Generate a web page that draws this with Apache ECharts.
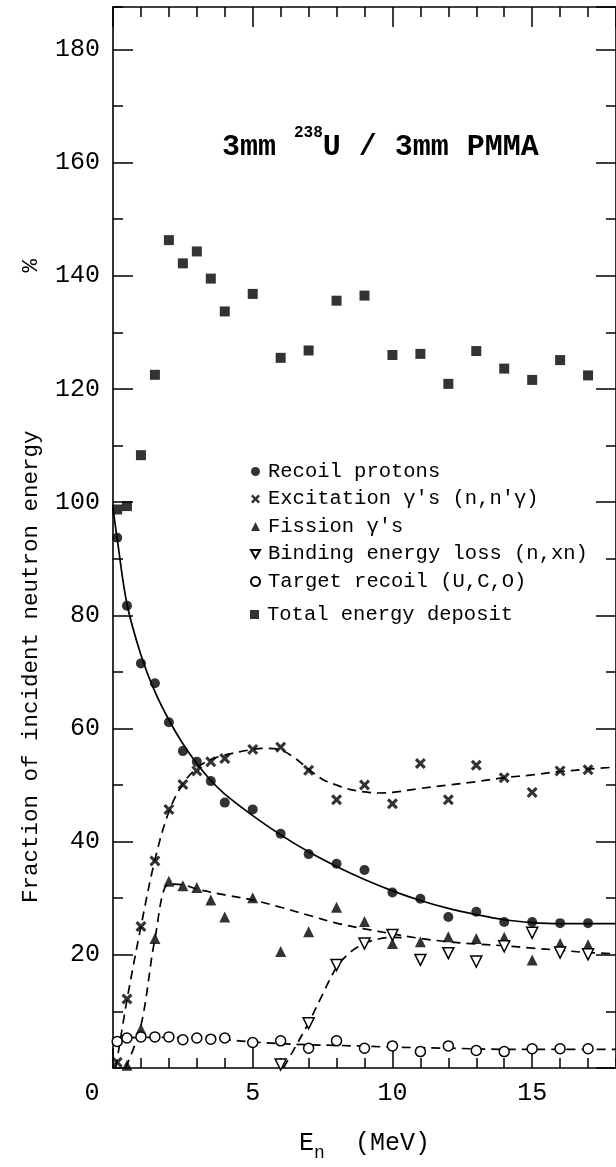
<!DOCTYPE html>
<html>
<head>
<meta charset="utf-8">
<script src="https://cdn.jsdelivr.net/npm/echarts@6/dist/echarts.min.js"></script>
<style>
  html, body { margin: 0; padding: 0; background: #fff; }
  #chart { width: 616px; height: 1167px; }
</style>
</head>
<body>
<div id="chart"></div>
<script>
// Neutron energy (MeV) and the share of it (%) deposited by each process
const recoilE = [0.15, 0.5, 1, 1.5, 2, 2.5, 3, 3.5, 4, 5, 6, 7, 8, 9, 10, 11, 12, 13, 14, 15, 16, 17];
const recoilV = [93.7, 81.7, 71.5, 68, 61.1, 56.0, 54.1, 50.7, 46.9, 45.7, 41.4, 37.8, 36.1, 35.0, 31.0, 29.9, 26.7, 27.6, 25.8, 25.8, 25.6, 25.6];

const excE = [0.15, 0.5, 1, 1.5, 2, 2.5, 3, 3.5, 4, 5, 6, 7, 8, 9, 10, 11, 12, 13, 14, 15, 16, 17];
const excV = [1, 12.2, 25.0, 36.6, 45.7, 50.1, 52.5, 54.1, 54.7, 56.3, 56.7, 52.6, 47.4, 50.0, 46.7, 53.8, 47.4, 53.5, 51.3, 48.7, 52.5, 52.7];

const fisE = [0.5, 1, 1.5, 2, 2.5, 3, 3.5, 4, 5, 6, 7, 8, 9, 10, 11, 12, 13, 14, 15, 16, 17];
const fisV = [0.5, 6.9, 22.9, 33.0, 32.2, 31.9, 29.7, 26.7, 30.1, 20.6, 24.1, 28.4, 25.9, 22.0, 22.3, 23.2, 22.9, 23.1, 19.1, 22.0, 21.8];

const bindE = [6, 7, 8, 9, 10, 11, 12, 13, 14, 15, 16, 17];
const bindV = [0.6, 7.9, 18.2, 22.0, 23.5, 19.1, 20.3, 18.8, 21.5, 23.9, 20.4, 20.1];

const targetE = [0.15, 0.5, 1, 1.5, 2, 2.5, 3, 3.5, 4, 5, 6, 7, 8, 9, 10, 11, 12, 13, 14, 15, 16, 17];
const targetV = [4.7, 5.3, 5.5, 5.5, 5.5, 5.0, 5.3, 5.1, 5.3, 4.5, 4.8, 3.5, 4.8, 3.5, 3.9, 2.9, 3.9, 3.1, 2.9, 3.4, 3.4, 3.4];

const totalE = [0.15, 0.5, 1, 1.5, 2, 2.5, 3, 3.5, 4, 5, 6, 7, 8, 9, 10, 11, 12, 13, 14, 15, 16, 17];
const totalV = [98.7, 99.3, 108.3, 122.5, 146.3, 142.2, 144.3, 139.5, 133.7, 136.8, 125.5, 126.8, 135.6, 136.5, 126.0, 126.2, 120.9, 126.7, 123.6, 121.6, 125.1, 122.4];

// Hand-drawn trend curves, sampled along their paths [E, %]
const recoilCurve = [[0, 99], [0.15, 93.5], [0.5, 82], [1, 73], [1.5, 66.5], [2, 61.5], [2.5, 57.3], [3, 53.8], [3.5, 50.8], [4, 48.4], [5, 44.6], [6, 41.2], [7, 38.2], [8, 35.6], [9, 33.3], [10, 31.3], [11, 29.6], [12, 28.2], [13, 27.1], [14, 26.2], [15, 25.7], [16, 25.5], [17, 25.5], [18, 25.5]];
const excCurve = [[0.1, 0], [0.5, 12], [1, 25], [1.5, 36.8], [2, 45.3], [2.5, 50.2], [3, 53], [3.5, 54.5], [4, 55.3], [5, 56.3], [5.5, 56.5], [6, 56.2], [6.5, 54.8], [7, 52.8], [7.5, 51], [8, 50], [8.5, 49.2], [9, 48.8], [9.5, 48.6], [10, 48.7], [11, 49.4], [12, 50], [13, 50.6], [14, 51.3], [15, 51.8], [16, 52.4], [17, 52.8], [18, 53.2]];
const fisCurve = [[0.45, 0], [1, 7.5], [1.5, 22.8], [2, 32.5], [2.5, 32.4], [3, 31.6], [4, 30.6], [5, 29.7], [6, 28.4], [7, 27], [8, 25.6], [9, 24.6], [10, 23.7], [11, 22.9], [12, 22.3], [13, 21.9], [14, 21.6], [15, 21.2], [16, 20.8], [17, 20.4], [18, 20.2]];
const bindCurve = [[6.1, 0], [6.5, 3.5], [7, 8], [7.5, 13], [8, 17.8], [8.5, 20.5], [9, 22], [9.5, 22.8], [10, 23.1], [10.5, 23]];
const targetCurve = [[0.15, 4.8], [0.5, 5.3], [1, 5.4], [2, 5.4], [3, 5.2], [4, 5.0], [5, 4.6], [6, 4.3], [7, 4.1], [8, 4.0], [10, 3.7], [12, 3.5], [14, 3.3], [16, 3.3], [18, 3.3]];

const xMajorTicks = 5;
const xMinorTicks = 1;
const yMajorTicks = 20;
const yMinorTicks = 10;

const FONT = 'Liberation Mono';
const INK = '#000';
const pairs = (xs, ys) => xs.map((x, i) => [x, ys[i]]);

// Bold saltire for the excitation points, open downward triangle for binding loss
const CROSS = 'path://M0,2L2,0L5,3L8,0L10,2L7,5L10,8L8,10L5,7L2,10L0,8L3,5Z';
const DOWN_TRI = 'path://M0,0L10,0L5,9Z';

function xAxisDef(pos, interval, len, withLabels, withLine) {
  return {
    type: 'value', position: pos, min: 0, max: 18, interval: interval,
    axisLine: { show: withLine, onZero: false, lineStyle: { color: INK, width: 1.6 } },
    axisTick: { show: true, inside: true, length: len, lineStyle: { color: INK, width: 1.5 } },
    axisLabel: withLabels ? {
      show: true, margin: 13, color: INK, fontFamily: FONT, fontSize: 25,
      showMaxLabel: false,
      formatter: v => v === 0 ? '{z|0}' : String(v),
      rich: { z: { fontFamily: FONT, fontSize: 25, color: INK, padding: [0, 42, 0, 0] } }
    } : { show: false },
    splitLine: { show: false }
  };
}
function yAxisDef(pos, interval, len, withLabels, withLine) {
  return {
    type: 'value', position: pos, min: 0, max: 187.5, interval: interval,
    axisLine: { show: withLine, onZero: false, lineStyle: { color: INK, width: 1.6 } },
    axisTick: { show: true, inside: true, length: len, lineStyle: { color: INK, width: 1.5 } },
    axisLabel: withLabels ? {
      show: true, margin: 13, color: INK, fontFamily: FONT, fontSize: 25,
      showMinLabel: false, showMaxLabel: false
    } : { show: false },
    splitLine: { show: false }
  };
}

const xBottom = xAxisDef('bottom', xMajorTicks, 20, true, true);
xBottom.name = '{e|E}{s|n}{e|  (MeV)}';
xBottom.nameLocation = 'middle';
xBottom.nameGap = 63;
xBottom.nameTextStyle = {
  rich: {
    e: { fontFamily: FONT, fontSize: 25, color: INK, verticalAlign: 'bottom', padding: [0, 0, 6, 0] },
    s: { fontFamily: FONT, fontSize: 18, color: INK, verticalAlign: 'bottom' }
  }
};

// Rotated axis title; the per-cent sign sits well apart from the words
const yLeft = yAxisDef('left', yMajorTicks, 20, true, true);
yLeft.name = '{t|Fraction of incident neutron energy}{p|%}';
yLeft.nameLocation = 'middle';
yLeft.nameRotate = 90;
yLeft.nameGap = 70;
yLeft.nameTextStyle = {
  padding: [0, 87, 0, 0],
  rich: {
    t: { fontFamily: FONT, fontSize: 22.5, color: INK },
    p: { fontFamily: FONT, fontSize: 22.5, color: INK, padding: [0, 0, 0, 158] }
  }
};

const lineSeries = (name, data, dashed) => ({
  name: name, type: 'line', data: data, smooth: 0.35, showSymbol: false, symbol: 'none',
  silent: true, z: 2,
  lineStyle: { color: INK, width: 1.7, type: dashed ? [9, 6] : 'solid' }
});
const scatterSeries = (name, data, symbol, size, filled, rotate) => ({
  name: name, type: 'scatter', data: data, symbol: symbol, symbolSize: size,
  symbolRotate: rotate || 0, z: 5,
  itemStyle: filled
    ? { color: INK, borderWidth: 0 }
    : { color: '#fff', borderColor: INK, borderWidth: 1.5, opacity: 1 }
});

const legendText = { fontFamily: FONT, fontSize: 20.5, color: INK, padding: [0, 0, 0, 3] };

const chart = echarts.init(document.getElementById('chart'), null, { renderer: 'canvas' });
chart.setOption({
  animation: false,
  backgroundColor: '#fff',
  title: {
    text: '{a|3mm }{b|238}{a|U / 3mm PMMA}',
    left: 222, top: 125, padding: 0,
    textStyle: {
      rich: {
        a: { fontFamily: FONT, fontSize: 30, color: INK, verticalAlign: 'bottom' },
        b: { fontFamily: FONT, fontSize: 16, color: INK, verticalAlign: 'bottom', padding: [0, 0, 21, 0] }
      }
    }
  },
  legend: [
    {
      orient: 'vertical', left: 250, top: 461, padding: 0, itemGap: 6.5,
      itemWidth: 9, itemHeight: 9, selectedMode: false, textStyle: legendText,
      data: ['Recoil protons', "Excitation γ's (n,n'γ)", "Fission γ's", 'Binding energy loss (n,xn)', 'Target recoil (U,C,O)']
    },
    {
      orient: 'vertical', left: 250, top: 604, padding: 0,
      itemWidth: 9, itemHeight: 9, selectedMode: false, textStyle: legendText,
      data: ['Total energy deposit']
    }
  ],
  grid: { left: 113, right: -7, top: 7, bottom: 95, containLabel: false },
  xAxis: [
    xBottom,
    xAxisDef('bottom', xMinorTicks, 10, false, false),
    xAxisDef('top', xMajorTicks, 20, false, true),
    xAxisDef('top', xMinorTicks, 10, false, false)
  ],
  yAxis: [
    yLeft,
    yAxisDef('left', yMinorTicks, 10, false, false),
    yAxisDef('right', yMajorTicks, 20, false, true),
    yAxisDef('right', yMinorTicks, 10, false, false)
  ],
  series: [
    lineSeries('recoil fit', recoilCurve, false),
    lineSeries('excitation fit', excCurve, true),
    lineSeries('fission fit', fisCurve, true),
    lineSeries('binding fit', bindCurve, true),
    lineSeries('target fit', targetCurve, true),
    scatterSeries('Recoil protons', pairs(recoilE, recoilV), 'circle', 10, true),
    scatterSeries("Excitation γ's (n,n'γ)", pairs(excE, excV), CROSS, 11, true),
    scatterSeries("Fission γ's", pairs(fisE, fisV), 'triangle', 11, true),
    scatterSeries('Binding energy loss (n,xn)', pairs(bindE, bindV), DOWN_TRI, 11, false),
    scatterSeries('Target recoil (U,C,O)', pairs(targetE, targetV), 'circle', 10, false),
    scatterSeries('Total energy deposit', pairs(totalE, totalV), 'rect', 10, true)
  ]
});
</script>
</body>
</html>
